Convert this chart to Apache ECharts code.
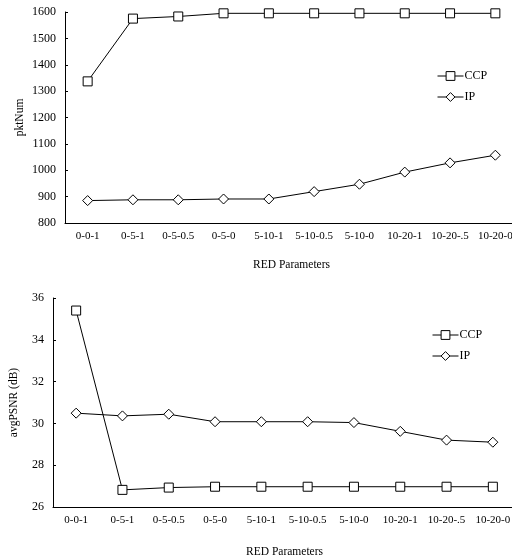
<!DOCTYPE html>
<html><head><meta charset="utf-8">
<script src="https://cdn.jsdelivr.net/npm/echarts@6/dist/echarts.min.js"></script>
<style>html,body{margin:0;padding:0;background:#fff;overflow:hidden;width:512px;height:559px}#c{width:530px;height:559px}</style>
</head><body><div id="c"></div>
<script>
var categories = ['0-0-1','0-5-1','0-5-0.5','0-5-0','5-10-1','5-10-0.5','5-10-0','10-20-1','10-20-.5','10-20-0'];
var pktCCP = [1337,1575,1583,1595,1595,1595,1595,1595,1595,1595];
var pktIP = [885,888,888,891,891,919,947,993,1028,1057];
var psnrCCP = [35.4,26.82,26.93,26.97,26.97,26.97,26.97,26.97,26.97,26.97];
var psnrIP = [30.49,30.36,30.44,30.08,30.08,30.08,30.04,29.62,29.2,29.1];
var pktTicks = {min:800,max:1600,interval:100};
var psnrTicks = {min:26,max:36,interval:2};

var FONT = 'Liberation Serif';
var txt = {fontFamily:FONT,color:'#000',fontSize:11.5};
function xAxes(gi,gap){
  return [
    {type:'category',gridIndex:gi,data:categories,boundaryGap:true,
     axisLine:{lineStyle:{color:'#000',width:1}},
     axisTick:{inside:true,length:3,interval:0,lineStyle:{color:'#000'}},
     axisLabel:{interval:0,margin:8,fontSize:11,fontFamily:FONT,color:'#000'},
     name:'RED Parameters',nameLocation:'middle',nameGap:gap,nameTextStyle:txt,nameMoveOverlap:false},
    {type:'category',gridIndex:gi,data:categories,boundaryGap:true,position:'bottom',
     axisLine:{show:false},
     axisTick:{inside:true,length:3,interval:0,alignWithLabel:true,lineStyle:{color:'#000'}},
     axisLabel:{show:false}}
  ];
}
function yAxis(gi,t,name,gap){
  return {type:'value',gridIndex:gi,min:t.min,max:t.max,interval:t.interval,
    axisLine:{show:true,lineStyle:{color:'#000'}},
    axisTick:{show:true,inside:true,length:3,lineStyle:{color:'#000'}},
    splitLine:{show:false},
    axisLabel:{margin:9,fontFamily:FONT,color:'#000',fontSize:12,formatter:function(v){return String(v);}},
    name:name,nameLocation:'middle',nameGap:gap,nameTextStyle:txt,nameMoveOverlap:false};
}
function ser(name,data,sym,xi,yi){
  return {name:name,type:'line',data:data,xAxisIndex:xi,yAxisIndex:yi,
    symbol:sym,symbolSize:sym==='rect'?9:10,showSymbol:true,
    lineStyle:{color:'#000',width:1},
    itemStyle:{color:'#fff',borderColor:'#000',borderWidth:1},
    emphasis:{disabled:true},animation:false};
}
var legBase = {orient:'vertical',itemGap:9,itemWidth:26,itemHeight:11,
  textStyle:{fontFamily:FONT,fontSize:12,color:'#000',padding:[0,0,0,-4]},
  lineStyle:{width:1,color:'#000'},itemStyle:{color:'#fff',borderColor:'#000',borderWidth:1},
  selectedMode:false};
var chart = echarts.init(document.getElementById('c'),null,{renderer:'canvas'});
chart.setOption({
  animation:false,
  backgroundColor:'#fff',
  grid:[{left:65,top:12,width:453,height:211},{left:52,top:298,width:464,height:211}],
  xAxis:xAxes(0,36).concat(xAxes(1,39)),
  yAxis:[yAxis(0,pktTicks,'pktNum',39),yAxis(1,psnrTicks,'avgPSNR (dB)',33)],
  legend:[
    Object.assign({left:432,top:65,data:['CCP','IP']},legBase),
    Object.assign({left:427,top:324,data:['CCP ','IP ']},legBase)
  ],
  series:[
    ser('CCP',pktCCP,'rect',0,0),
    ser('IP',pktIP,'diamond',0,0),
    ser('CCP ',psnrCCP,'rect',2,1),
    ser('IP ',psnrIP,'diamond',2,1)
  ]
});
</script></body></html>
